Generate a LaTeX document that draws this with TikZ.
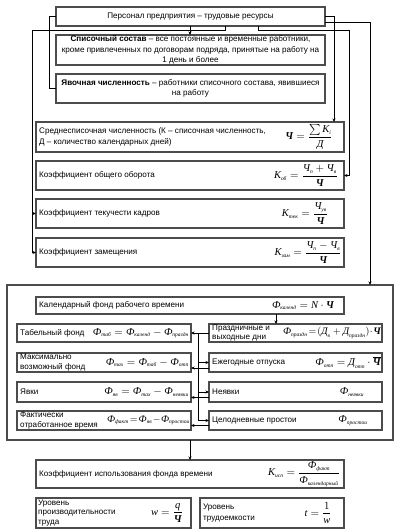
\documentclass[tikz,border=0pt]{standalone}
\usepackage{fontspec}
\usepackage{amsmath}
\setmainfont{Liberation Sans}
\newfontfamily\fsr{Liberation Serif}
\usetikzlibrary{arrows.meta,calc}
\newcommand\cy[1]{\text{\fsr\itshape #1}}
\newcommand\ch{\text{\fsr\itshape\bfseries Ч}}
\newcommand\ix[1]{_{\text{\fsr\itshape\fontsize{5.5}{6}\selectfont #1}}}
\begin{document}
\begin{tikzpicture}[x=1pt,y=-1pt,
 box/.style={draw=black!70,line width=1.1pt,anchor=north west,inner sep=0,outer sep=0},
 txt/.style={anchor=west,inner sep=0,font=\fontsize{8.1}{10.3}\selectfont,align=left},
 ctxt/.style={inner sep=0,font=\fontsize{8.1}{10.3}\selectfont,align=center},
 frm/.style={inner sep=0,font=\fontsize{10.5}{12}\selectfont},
 con/.style={line width=0.7pt},
 arr/.style={con,-{Stealth[length=3.5pt,width=3pt]}}]
\useasboundingbox (0,0) rectangle (407,529);
% boxes
\node[box,minimum width=269,minimum height=19] (top) at (56,7) {};
\node[box,minimum width=269,minimum height=30] (spis) at (56,35) {};
\node[box,minimum width=269,minimum height=29] (yav) at (56,74) {};
\node[box,minimum width=308,minimum height=30] (sred) at (36,122) {};
\node[box,minimum width=308,minimum height=29] (obor) at (36,161) {};
\node[box,minimum width=308,minimum height=29] (tek) at (36,199) {};
\node[box,minimum width=308,minimum height=29] (zam) at (36,238) {};
\node[box,minimum width=386,minimum height=155] (frame) at (7,285) {};
\node[box,minimum width=308,minimum height=17] (kal) at (36,297) {};
\node[box,minimum width=174,minimum height=18] (tab) at (17,324) {};
\node[box,minimum width=173,minimum height=18] (prz) at (209,324) {};
\node[box,minimum width=174,minimum height=19] (max) at (17,353) {};
\node[box,minimum width=173,minimum height=19] (ezh) at (209,353) {};
\node[box,minimum width=174,minimum height=20] (yv) at (17,382) {};
\node[box,minimum width=173,minimum height=20] (nyv) at (209,382) {};
\node[box,minimum width=174,minimum height=19] (fkt) at (17,411) {};
\node[box,minimum width=173,minimum height=19] (tsl) at (209,411) {};
\node[box,minimum width=308,minimum height=28] (isp) at (36,460) {};
\node[box,minimum width=155,minimum height=30] (upr) at (36,498) {};
\node[box,minimum width=144,minimum height=30] (utr) at (200,498) {};
% texts
\node[ctxt] (topT) at (top.center) {Персонал предприятия – трудовые ресурсы};
\node[ctxt] (spisT) at (spis.center) {\textbf{Списочный состав} – все постоянные и временные работники,\\кроме привлеченных по договорам подряда, принятые на работу на\\1 день и более};
\node[ctxt] (yavT) at (yav.center) {\textbf{Явочная численность} – работники списочного состава, явившиеся\\на работу};
\node[txt] (sredT) at ($(sred.west)+(3,0)$) {Среднесписочная численность (К – списочная численность,\\Д – количество календарных дней)};
\node[txt] (oborT) at ($(obor.west)+(3,0)$) {Коэффициент общего оборота};
\node[txt] (tekT) at ($(tek.west)+(3,0)$) {Коэффициент текучести кадров};
\node[txt] (zamT) at ($(zam.west)+(3,0)$) {Коэффициент замещения};
\node[txt] (kalT) at ($(kal.west)+(3,0)$) {Календарный фонд рабочего времени};
\node[txt] (tabT) at ($(tab.west)+(3,0)$) {Табельный фонд};
\node[txt,font=\fontsize{8.1}{9.2}\selectfont] (przT) at ($(prz.west)+(3,0)$) {Праздничные и\\выходные дни};
\node[txt,font=\fontsize{8.1}{9.6}\selectfont] (maxT) at ($(max.west)+(3,0)$) {Максимально\\возможный фонд};
\node[txt] (ezhT) at ($(ezh.west)+(3,0)$) {Ежегодные отпуска};
\node[txt] (yvT) at ($(yv.west)+(3,0)$) {Явки};
\node[txt] (nyvT) at ($(nyv.west)+(3,0)$) {Неявки};
\node[txt,font=\fontsize{8.1}{9.2}\selectfont] (fktT) at ($(fkt.west)+(3,0)$) {Фактически\\отработанное время};
\node[txt] (tslT) at ($(tsl.west)+(3,0)$) {Целодневные простои};
\node[txt] (ispT) at ($(isp.west)+(3,0)$) {Коэффициент использования фонда времени};
\node[txt,font=\fontsize{8.1}{9.8}\selectfont] (uprT) at ($(upr.west)+(2,0)$) {Уровень\\производительности\\труда};
\node[txt] (utrT) at ($(utr.west)+(3,0)$) {Уровень\\трудоемкости};
% formulas
\node[frm] (sredF) at (309,137) {$\ch=\dfrac{\sum \cy{К}\ix{i}}{\cy{Д}}$};
\node[frm] (oborF) at (306,175.5) {$\cy{К}\ix{об}=\dfrac{\cy{Ч}\ix{п}+\cy{Ч}\ix{в}}{\ch}$};
\node[frm] (tekF) at (305,213.5) {$\cy{К}\ix{тек}=\dfrac{\cy{Ч}\ix{ув}}{\ch}$};
\node[frm] (zamF) at (308,252.5) {$\cy{К}\ix{зам}=\dfrac{\cy{Ч}\ix{п}-\cy{Ч}\ix{в}}{\ch}$};
\node[frm] (kalF) at (303,305.5) {$\cy{Ф}\ix{календ}=\cy{N}\cdot\ch$};
\node[frm,anchor=east] (tabF) at (189,333) {$\cy{Ф}\ix{таб}=\cy{Ф}\ix{календ}-\cy{Ф}\ix{праздн}$};
\node[frm,anchor=east,font=\fontsize{10}{12}\selectfont] (przF) at (381,333) {$\cy{Ф}\ix{праздн}\!=\!(\cy{Д}\ix{в}+\cy{Д}\ix{праздн})\!\cdot\!\ch$};
\node[frm,anchor=east] (maxF) at (189,362.5) {$\cy{Ф}\ix{max}=\cy{Ф}\ix{таб}-\cy{Ф}\ix{отп}$};
\node[frm,anchor=east] (ezhF) at (381,362.5) {$\cy{Ф}\ix{отп}=\cy{Д}\ix{отп}\cdot\overline{\ch}$};
\node[frm,anchor=east] (yvF) at (189,392) {$\cy{Ф}\ix{яв}=\cy{Ф}\ix{max}-\cy{Ф}\ix{неявки}$};
\node[frm] (nyvF) at (352,392) {$\cy{Ф}\ix{неявки}$};
\node[frm,anchor=east,font=\fontsize{10}{12}\selectfont] (fktF) at (190,420.5) {$\cy{Ф}\ix{факт}\!=\!\cy{Ф}\ix{яв}\!-\!\cy{Ф}\ix{простои}$};
\node[frm] (tslF) at (353,420.5) {$\cy{Ф}\ix{простои}$};
\node[frm] (ispF) at (304,474) {$\cy{К}\ix{исп}=\dfrac{\cy{Ф}\ix{факт}}{\cy{Ф}\ix{календарный}}$};
\node[frm] (uprF) at (167,513) {$\cy{w}=\dfrac{\cy{q}}{\ch}$};
\node[frm] (utrF) at (318,513) {$\cy{t}=\dfrac{1}{\cy{w}}$};
% connectors
\draw[con] (top.west) -- ++(-7,0) |- (yav.west);
\draw[arr] (190,0 |- top.south) -- (190,0 |- spis.north);
\coordinate (lt) at (32,30);
\draw[arr] (225,0 |- top.south) |- (lt) |- (zam.west);
\draw[arr] (lt |- tek.west) -- (tek.west);
\coordinate (rt) at (349,30);
\draw[arr] (258,0 |- top.south) |- (rt) |- (obor.east);
\draw[arr] (top.east) -| (334,0 |- sred.north);
\draw[arr] ($(top.east)+(0,5.5)$) -| (370,0 |- frame.north);
\draw[arr] (276,0 |- kal.south) -- (276,0 |- prz.north);
\draw[arr] (prz.west) -- (tab.east);
\coordinate (vt) at (198,0 |- tab.east);
\draw[arr] (vt) |- (tsl.west);
\draw[arr] (vt |- ezh.west) -- (ezh.west);
\draw[arr] (vt |- nyv.west) -- (nyv.west);
\draw[arr] ($(ezh.west)+(0,5.5)$) -- ($(max.east)+(0,5.5)$);
\draw[arr] ($(nyv.west)+(0,5.5)$) -- ($(yv.east)+(0,5.5)$);
\draw[arr] ($(tsl.west)+(0,5)$) -- ($(fkt.east)+(0,5)$);
\draw[arr] (190,0 |- frame.south) -- (190,0 |- isp.north);
\end{tikzpicture}
\end{document}
